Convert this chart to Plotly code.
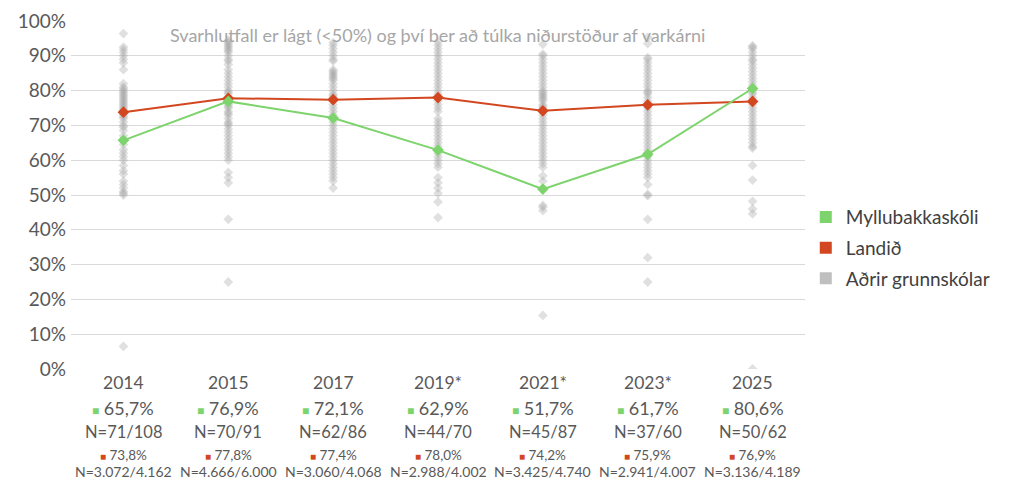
import plotly.graph_objects as go

# ---------------- data ----------------
years = ["2014", "2015", "2017", "2019*", "2021*", "2023*", "2025"]

school_name = "Myllubakkaskóli"
school_pct = [65.7, 76.9, 72.1, 62.9, 51.7, 61.7, 80.6]
school_n = [71, 70, 62, 44, 45, 37, 50]
school_total = [108, 91, 86, 70, 87, 60, 62]

land_name = "Landið"
land_pct = [73.8, 77.8, 77.4, 78.0, 74.2, 75.9, 76.9]
land_n = [3072, 4666, 3060, 2988, 3425, 2941, 3136]
land_total = [4162, 6000, 4068, 4002, 4740, 4007, 4189]

others_name = "Aðrir grunnskólar"
others_2014 = [96.4, 92.5, 91.8, 91, 90, 89, 88, 86, 82, 81, 80.5, 80, 79.5, 79, 78.5, 78,
               77.5, 77, 76.5, 76, 75.5, 75, 74.5, 74, 73, 72.5, 72, 71, 70, 69.5, 68.5, 67,
               66, 64.5, 63, 62, 61, 60, 58.5, 57, 56, 54, 53, 52, 51, 50.5, 50, 6.5]
others_2015 = [94.5, 94, 93.5, 93, 92.5, 92, 91.5, 91, 90, 89, 88.5, 87.5, 86, 85, 84, 83,
               82, 81, 80, 79.5, 79, 78, 77.5, 77, 76, 75.5, 75, 74, 73.5, 73, 72, 71, 70.5,
               70, 69, 68, 67, 66, 65, 64, 63, 62, 61, 60, 56.5, 55, 53.5, 43, 25]
others_2017 = [93.8, 93, 92, 91, 90, 89, 88.5, 86, 85.5, 85, 84.5, 84, 83.5, 83, 82, 81, 80,
               79, 78.5, 78, 77, 76, 75, 74, 73, 72, 71, 70, 69, 68, 67, 66, 65, 64, 63, 62,
               61, 60, 59, 58, 57, 56, 55, 54, 52]
others_2019 = [94, 93, 92, 91, 90, 89, 88, 87, 86, 85, 84, 83, 82, 81, 80, 79, 78, 77, 76,
               75, 74, 72, 71, 70, 69, 68, 67, 66, 65, 64, 63, 62, 61, 60, 59, 58, 55, 53.5,
               52, 50.5, 48, 43.5]
others_2021 = [93.3, 90.5, 90, 89, 88, 87, 86, 85, 84, 83, 82, 81, 80, 79.5, 79, 78.5, 78,
               77.5, 77, 76, 75.5, 75, 74, 73, 72, 71, 70, 69, 68, 67, 66, 65, 64, 63, 62,
               61, 60, 59, 58, 55.5, 54, 47, 46.5, 45.5, 15.4]
others_2023 = [95.3, 93.5, 89.5, 89, 88, 87, 86, 85, 84, 83, 82, 81, 80, 79.5, 79, 78, 77,
               76, 75.5, 75, 74, 73, 72, 71, 70, 69, 68, 67, 66, 65, 64, 63, 62, 61, 60, 59,
               58, 57, 56, 55, 53, 50.2, 49.8, 43, 32, 25]
others_2025 = [92.9, 92.5, 92, 91, 90, 89, 88.5, 87.5, 86.5, 85.5, 84.5, 83.5, 82.5, 81.5,
               80.5, 79.5, 79, 78, 77, 76, 75, 74, 73, 72, 71, 70, 69, 68, 67, 66, 65, 64,
               63.5, 58.5, 54.3, 48.2, 46, 44.6, 0]
others = [others_2014, others_2015, others_2017, others_2019, others_2021, others_2023, others_2025]

note = "Svarhlutfall er lágt (<50%) og því ber að túlka niðurstöður af varkárni"

# ---------------- style ----------------
GREEN = "#7dd36c"
RED = "#d2471f"
GRAY = "rgba(165,165,165,0.35)"
LEG_GRAY = "#bfbfbf"
TXT = "#595959"
FONT = "Lato"

fig = go.Figure()

ox, oy = [], []
for yr, vals in zip(years, others):
    ox += [yr] * len(vals)
    oy += vals
fig.add_trace(go.Scatter(x=ox, y=oy, mode="markers", showlegend=False,
                         marker=dict(symbol="diamond", size=7.5, color=GRAY, line=dict(width=0))))
fig.add_trace(go.Scatter(x=years, y=land_pct, mode="lines+markers", showlegend=False,
                         line=dict(color=RED, width=2),
                         marker=dict(symbol="diamond", size=9, color=RED)))
fig.add_trace(go.Scatter(x=years, y=school_pct, mode="lines+markers", showlegend=False,
                         line=dict(color=GREEN, width=2),
                         marker=dict(symbol="diamond", size=9, color=GREEN)))

# legend entries (square swatches), one group each so the gap spaces them
for k, (name, col) in enumerate([(school_name, GREEN), (land_name, RED), (others_name, LEG_GRAY)]):
    fig.add_trace(go.Scatter(x=[None], y=[None], mode="markers", name=name,
                             legendgroup=f"g{k}",
                             marker=dict(symbol="square", size=11, color=col)))


def fmt_pct(v):
    return f"{v:.1f}".replace(".", ",") + "%"


def fmt_int(v):
    return f"{v:,}".replace(",", ".")


ann = []
for i, yr in enumerate(years):
    rows = [
        (yr, 17.5, -13),
        (f"<span style='color:{GREEN};font-size:12px'>■</span> {fmt_pct(school_pct[i])}", 18, -39),
        (f"N={school_n[i]}/{school_total[i]}", 16.5, -63),
        (f"<span style='color:{RED};font-size:10px'>■</span> {fmt_pct(land_pct[i])}", 13.5, -86),
        (f"N={fmt_int(land_n[i])}/{fmt_int(land_total[i])}", 14, -102),
    ]
    for text, size, ys in rows:
        # category index position on the x axis
        ann.append(dict(x=i, xref="x", y=0, yref="paper", yanchor="middle", yshift=ys,
                        text=text, showarrow=False, font=dict(family=FONT, size=size, color=TXT)))

ann.append(dict(x=0.499, xref="paper", y=1, yref="paper", yanchor="middle", yshift=-14,
                text=note, showarrow=False, font=dict(family=FONT, size=18, color="#a6a6a6")))

fig.update_layout(
    width=1011, height=479,
    margin=dict(l=71, r=206, t=21, b=110, autoexpand=False),
    paper_bgcolor="white", plot_bgcolor="white",
    font=dict(family=FONT, color=TXT),
    showlegend=True,
    legend=dict(xref="container", yref="container", x=0.797, xanchor="left",
                y=0.482, yanchor="middle",
                font=dict(family=FONT, size=19, color="#404040"),
                itemsizing="constant", tracegroupgap=3),
    annotations=ann,
)
fig.update_xaxes(type="category", categoryorder="array", categoryarray=years,
                 range=[-0.5, len(years) - 0.5],
                 showticklabels=False, showgrid=False, zeroline=False, showline=False)
fig.update_yaxes(range=[0, 100], dtick=10, ticksuffix="%", showgrid=True, gridcolor="#d9d9d9",
                 gridwidth=1, zeroline=False, showline=False, ticklabelstandoff=4,
                 tickfont=dict(family=FONT, size=19, color=TXT))

fig.write_html("out.html", config={"displayModeBar": False},
               post_script="document.body.style.margin='0';")
